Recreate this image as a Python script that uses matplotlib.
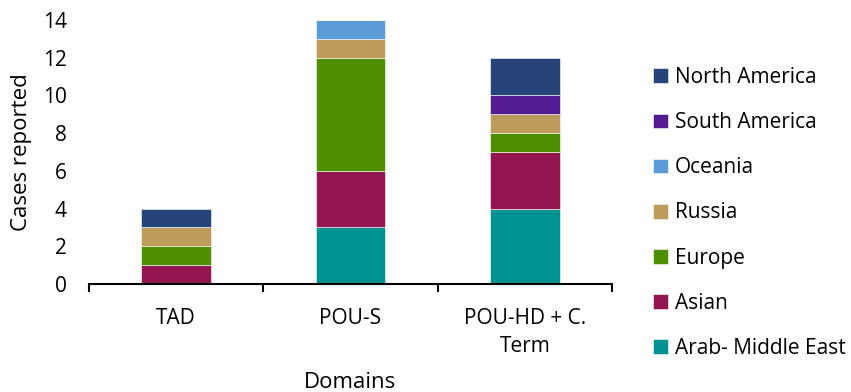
import matplotlib
matplotlib.use("Agg")
import matplotlib.pyplot as plt
import numpy as np

plt.rcParams['font.family'] = ['Open Sans', 'DejaVu Sans']

categories = ["TAD", "POU-S", "POU-HD + C.\nTerm"]
series_names = ["Arab- Middle East", "Asian", "Europe", "Russia", "Oceania",
                "South America", "North America"]
arab = [0, 3, 4]
asian = [1, 3, 3]
europe = [1, 6, 1]
russia = [1, 1, 1]
oceania = [0, 1, 0]
south_america = [0, 0, 1]
north_america = [1, 0, 2]
colors = ["#009292", "#941651", "#4E8F00", "#BD9B5B", "#5B9BD5", "#541B93", "#264478"]
yticks = [0, 2, 4, 6, 8, 10, 12, 14]

series = [arab, asian, europe, russia, oceania, south_america, north_america]

fig = plt.figure(figsize=(8.51, 3.92), dpi=100)
ax = fig.add_axes([89/851, 1-284/392, (612-89)/851, (284-20)/392])

x = np.arange(len(categories))
bottom = np.zeros(len(categories))
handles = []
for name, vals, c in zip(series_names, series, colors):
    vals = np.array(vals, dtype=float)
    b = ax.bar(x, vals, 0.4, bottom=bottom, color=c, edgecolor="white",
               linewidth=0.4, label=name, clip_on=False)
    handles.append(b)
    bottom += vals

ax.set_xlim(-0.5, 2.5)
ax.set_ylim(0, 14)
ax.set_yticks(yticks)
ax.set_yticklabels([str(t) for t in yticks], fontsize=15)
ax.set_xticks(x)
ax.set_xticklabels(categories, fontsize=15, linespacing=1.45)
ax.set_xticks([-0.5, 0.5, 1.5, 2.5], minor=True)
ax.tick_params(axis='x', which='major', length=0, pad=17)
ax.tick_params(axis='x', which='minor', length=6, width=1.5, direction='out')
ax.tick_params(axis='y', length=0, pad=16)
for s in ["top", "right", "left"]:
    ax.spines[s].set_visible(False)
ax.spines["bottom"].set_linewidth(1.5)

ax.set_ylabel("Cases reported", fontsize=16, labelpad=8)
ax.set_xlabel("Domains", fontsize=16, labelpad=11)

leg = fig.legend(handles[::-1], series_names[::-1], loc="upper left",
                 bbox_to_anchor=(653/851, 1-67/392), frameon=False, fontsize=15,
                 handlelength=0.7, handleheight=0.7, handletextpad=0.35,
                 labelspacing=1.16, borderaxespad=0, borderpad=0)

fig.savefig("out.png", dpi=100)
